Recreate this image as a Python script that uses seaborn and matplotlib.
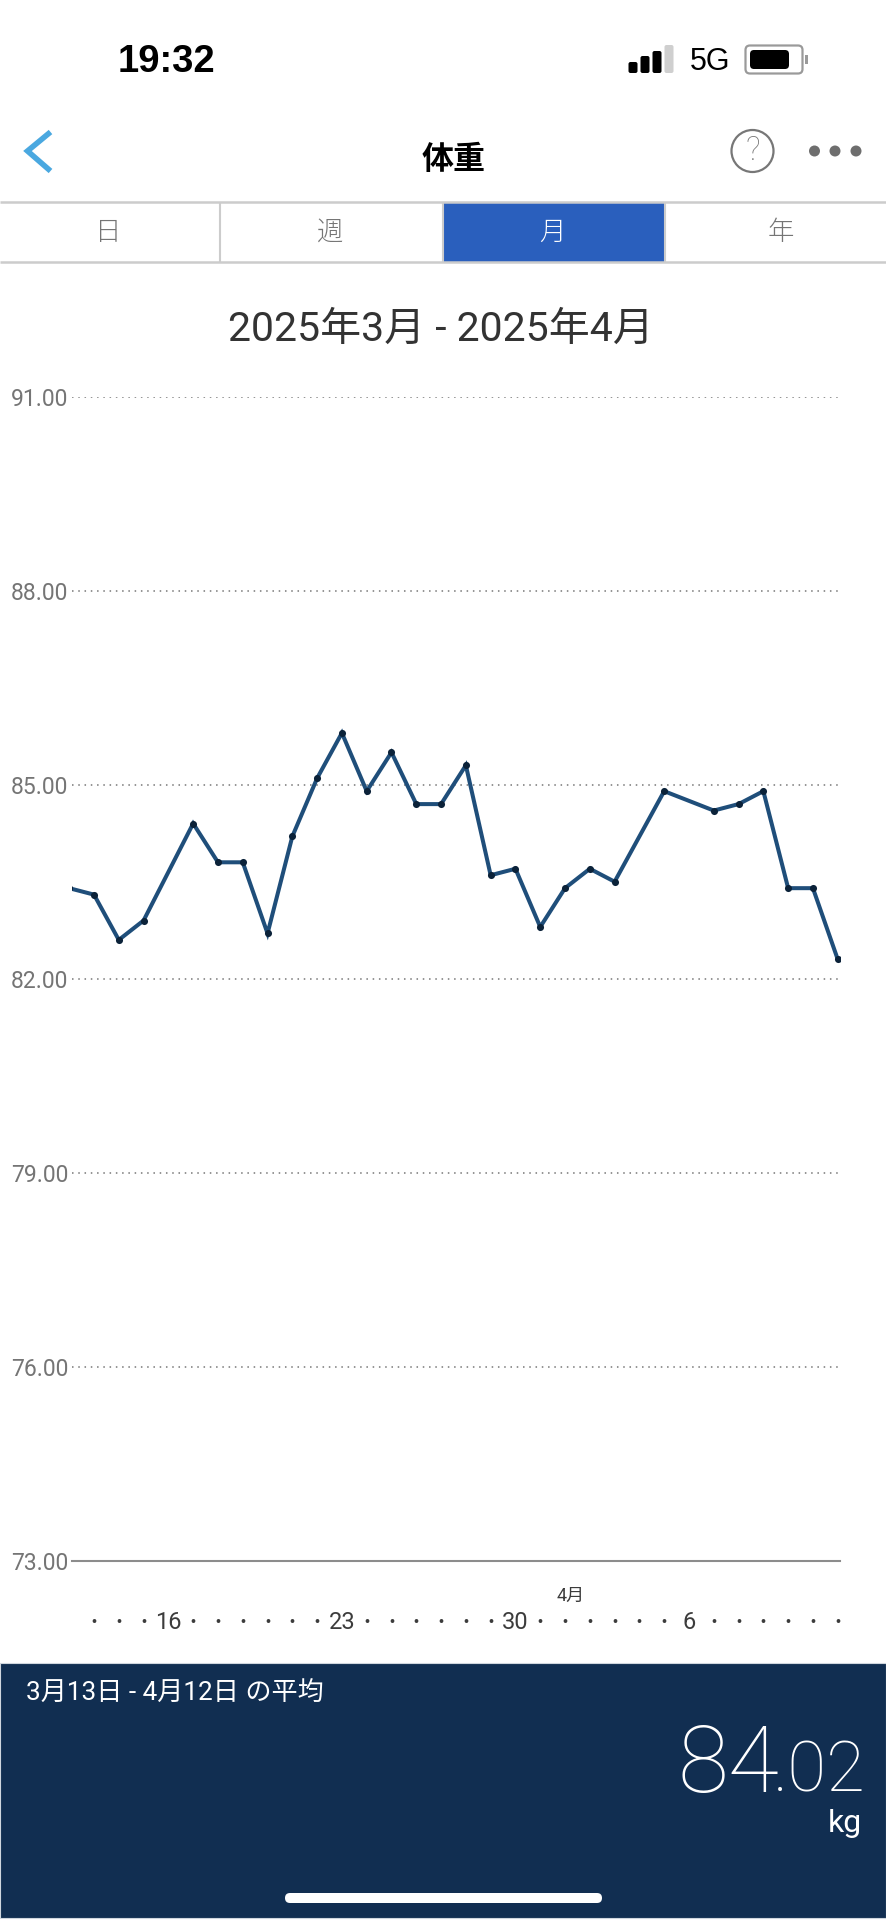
import matplotlib
matplotlib.use("Agg")
import matplotlib.pyplot as plt
import matplotlib.dates as mdates
from matplotlib.patches import Rectangle, FancyBboxPatch, Circle
import pandas as pd
import seaborn as sns

# ---- data ----
day_labels = ["03-12","03-13","03-14","03-15","03-17","03-18","03-19","03-20","03-21","03-22",
              "03-23","03-24","03-25","03-26","03-27","03-28","03-29","03-30","03-31",
              "04-01","04-02","04-03","04-05","04-07","04-08","04-09","04-10","04-11","04-12"]
weights = [83.4,83.3,82.6,82.9,84.4,83.8,83.8,82.7,84.2,85.1,
           85.8,84.9,85.5,84.7,84.7,85.3,83.6,83.7,82.8,
           83.4,83.7,83.5,84.9,84.6,84.7,84.9,83.4,83.4,82.3]
y_ticks = [73,76,79,82,85,88,91]
labelled_days = {"2025-03-16":"16","2025-03-23":"23","2025-03-30":"30","2025-04-06":"6"}
tabs = ["日","週","月","年"]
title = "2025年3月 - 2025年4月"
period = "3月13日 - 4月12日 の平均"

FW, FH = 886, 1920
LINE = "#1f4e7a"; MARK = "#0b2239"; PANEL = "#112e51"; GREY = "#757575"; TXT = "#3c3c3c"

sns.set_theme(style="white")
plt.rcParams["font.family"] = ["Roboto", "Noto Sans CJK JP", "DejaVu Sans"]
FONT = ["Roboto", "Noto Sans CJK JP", "DejaVu Sans"]

fig = plt.figure(figsize=(FW/100, FH/100), dpi=100, facecolor="white")

# ---- app chrome, in pixel coordinates ----
ui = fig.add_axes([0, 0, 1, 1])
ui.set_xlim(0, FW); ui.set_ylim(FH, 0); ui.axis("off")

ui.text(166.5, 62, "19:32", ha="center", va="center", fontsize=27.5, fontweight="bold",
        color="black", family=["Liberation Sans"])
for bx, top, col in [(633,62,"black"),(645,56,"black"),(657,51,"black"),(669,45,"#cfcfcf")]:
    ui.add_patch(FancyBboxPatch((bx-2.5, top+2), 5, 73-top-4, boxstyle="round,pad=2", fc=col, ec="none"))
ui.text(710, 62.5, "5G", ha="center", va="center", fontsize=22, color="black", family=["Liberation Sans"])
ui.add_patch(FancyBboxPatch((750, 50), 48, 19, boxstyle="round,pad=4.5", fc="white", ec="#9a9a9a", lw=1.6))
ui.add_patch(FancyBboxPatch((754, 54), 31, 11, boxstyle="round,pad=4", fc="black", ec="none"))
ui.add_patch(Rectangle((805, 55), 3, 9, fc="#9a9a9a", ec="none"))

ui.plot([50.5, 27.5, 50.5], [132, 151, 171], color="#4aa8e0", lw=4, solid_joinstyle="miter", solid_capstyle="butt")
ui.text(454, 159.5, "体重", ha="center", va="center", fontsize=23, fontweight="bold",
        color="black", family=["Noto Sans CJK JP"])
ui.add_patch(Circle((752.5, 151), 21, fc="none", ec="#777777", lw=1.6))
ui.text(752.5, 151, "?", ha="center", va="center", fontsize=24, color="#777777", fontweight="light", family=FONT)
for dx in (814.5, 835, 856):
    ui.add_patch(Circle((dx, 151), 5.5, fc="#6e6e6e", ec="none"))

ui.add_patch(Rectangle((443, 202), 222, 60, fc="#2a5fbd", ec="none"))
for y in (202, 262):
    ui.plot([0, FW], [y, y], color="#cccccc", lw=1.8, solid_capstyle="butt")
for x in (220, 443, 665):
    ui.plot([x, x], [202, 262], color="#cccccc", lw=1.5, solid_capstyle="butt")
for name, x, col in zip(tabs, (108, 330.5, 552, 781), (GREY, GREY, "white", GREY)):
    ui.text(x, 232.5, name, ha="center", va="center", fontsize=19, fontweight="light", color=col, family=FONT)

ui.text(441, 329, title, ha="center", va="center", fontsize=29.5, fontweight="normal", color="#333333", family=FONT)

# bottom panel
ui.add_patch(Rectangle((0, 1663), FW, 255, fc=PANEL, ec="#cfd6de", lw=0.8))
ui.text(26, 1694, period, ha="left", va="center", fontsize=18.8, fontweight="normal", color="white", family=FONT)
ui.text(779, 1792, "84", ha="right", va="baseline", fontsize=67, fontweight="ultralight", color="white", family=["Roboto"])
ui.text(866, 1792, ".02", ha="right", va="baseline", fontsize=51, fontweight="ultralight", color="white", family=["Roboto"])
ui.text(862, 1823, "kg", ha="right", va="center", fontsize=23, fontweight="normal", color="white", family=["Roboto"])
ui.add_patch(FancyBboxPatch((285, 1893), 317, 10, boxstyle="round,pad=0,rounding_size=5", fc="white", ec="none"))

# ---- chart ----
df = pd.DataFrame({"date": pd.to_datetime(["2025-" + d for d in day_labels]), "weight": weights})

TOP, BOTTOM, LEFT, RIGHT = 396.7, 1560.7, 72, 840
ax = fig.add_axes([LEFT/FW, 1-BOTTOM/FH, (RIGHT-LEFT)/FW, (BOTTOM-TOP)/FH])
ax.patch.set_visible(False)

ax.grid(True, axis="y", color="#777777", lw=1.1, linestyle=(0, (1, 3.1)))
ax.set_axisbelow(True)
sns.lineplot(data=df, x="date", y="weight", ax=ax, color=LINE, lw=2.9, errorbar=None, zorder=3,
             solid_joinstyle="miter")
sns.scatterplot(data=df, x="date", y="weight", ax=ax, color=MARK, s=26, linewidth=0, zorder=4)

first, last = pd.Timestamp("2025-03-13"), pd.Timestamp("2025-04-12")
ax.set_xlim(first - pd.Timedelta(hours=21.3), last + pd.Timedelta(hours=2.2))
ax.set_ylim(min(y_ticks), max(y_ticks))
ax.set_yticks(y_ticks)
ax.set_yticklabels([f"{v:.2f}" for v in y_ticks], fontsize=16.5, fontweight="normal", color=GREY)
ax.tick_params(axis="y", length=0, pad=2.5)

all_days = pd.date_range(first, last)
ax.set_xticks(all_days)
day_text = [labelled_days.get(d.strftime("%Y-%m-%d"), "·") for d in all_days]
ax.set_xticklabels(day_text, fontsize=17, fontweight="normal", color=TXT)
for lab, txt in zip(ax.get_xticklabels(), day_text):
    if txt == "·":
        lab.set_fontweight("bold")
ax.tick_params(axis="x", length=0, pad=36.5)
ax.annotate("4月", xy=(mdates.date2num(pd.Timestamp("2025-04-01")), 0), xycoords=ax.get_xaxis_transform(),
            xytext=(4, -25.5), textcoords="offset points", ha="center", va="center",
            fontsize=13, fontweight="normal", color=TXT, family=FONT)
ax.set_xlabel(""); ax.set_ylabel("")
for s in ("top", "left", "right"):
    ax.spines[s].set_visible(False)
ax.spines["bottom"].set_color("#8c8c8c")
ax.spines["bottom"].set_linewidth(1.5)

fig.savefig("out.png", dpi=100, facecolor="white")
